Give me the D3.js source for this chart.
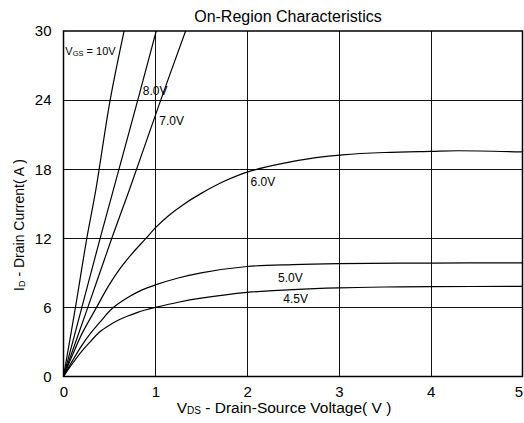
<!DOCTYPE html>
<html>
<head>
<meta charset="utf-8">
<script src="https://cdn.jsdelivr.net/npm/d3@7"></script>
<style>
  html, body { margin: 0; padding: 0; background: #fff; }
  svg { display: block; font-family: "Liberation Sans", Arial, sans-serif; }
</style>
</head>
<body>
<svg id="chart" width="524" height="423"></svg>
<script>
// ---- data ----
const title = "On-Region Characteristics";
const xTicks = [0, 1, 2, 3, 4, 5];
const yTicks = [0, 6, 12, 18, 24, 30];

const vgs10 = [[0,0],[0.13,6],[0.254,12],[0.352,16.2],[0.508,24],[0.66,30]];
const vgs8  = [[0,0],[0.2,6],[0.399,12],[0.543,16.2],[0.809,24],[1.01,30]];
const vgs7  = [[0,0],[0.265,6],[0.526,12],[0.717,16.2],[1.059,24],[1.33,30]];
const vgs6  = [[0,0],[0.1,1.9],[0.2,3.7],[0.36,6.0],[0.486,7.8],[0.6,9.2],[0.75,10.7],[0.888,11.9],[1,12.9],[1.15,14.0],[1.3,14.9],[1.5,15.9],[1.75,16.95],[2,17.75],[2.39,18.5],[2.75,19.0],[3.04,19.25],[3.5,19.45],[4,19.55],[4.3,19.6],[5,19.5]];
const vgs5  = [[0,0],[0.1,1.4],[0.2,2.7],[0.3,3.8],[0.4,4.75],[0.53,5.9],[0.7,6.85],[0.85,7.5],[1,7.95],[1.25,8.55],[1.5,9.0],[2,9.55],[2.5,9.72],[3,9.8],[4,9.85],[5,9.87]];
const vgs45 = [[0,0],[0.1,1.15],[0.2,2.2],[0.3,3.1],[0.4,3.9],[0.5,4.45],[0.6,4.9],[0.7,5.25],[0.8,5.55],[0.9,5.8],[1.0,6.0],[1.25,6.45],[1.5,6.8],[2,7.3],[2.5,7.55],[3,7.7],[3.5,7.77],[4,7.8],[5,7.83]];

const series = [vgs10, vgs8, vgs7, vgs6, vgs5, vgs45];
const curveLabels = [
  { name: "8.0V", at: [0.863, 24.45] },
  { name: "7.0V", at: [1.043, 21.85] },
  { name: "6.0V", at: [2.037, 16.5] },
  { name: "5.0V", at: [2.337, 8.23] },
  { name: "4.5V", at: [2.395, 6.35] }
];

// ---- layout ----
const svg = d3.select("#chart");
const margin = { left: 63.5, right: 1, top: 31, bottom: 47 };
const W = 524, H = 423;
const x = d3.scaleLinear().domain([0, 5]).range([margin.left, W - margin.right - 0.5]);
const y = d3.scaleLinear().domain([0, 30]).range([H - margin.bottom + 0.5, margin.top]);

svg.append("defs").append("clipPath").attr("id", "plot")
  .append("rect")
  .attr("x", x(0)).attr("y", y(30))
  .attr("width", x(5) - x(0)).attr("height", y(0) - y(30));

// grid
const grid = svg.append("g").attr("stroke", "#111").attr("stroke-width", 1);
grid.selectAll("line.v").data(xTicks.slice(1, -1)).join("line")
  .attr("x1", d => Math.round(x(d)) + 0.5).attr("x2", d => Math.round(x(d)) + 0.5)
  .attr("y1", y(0)).attr("y2", y(30));
grid.selectAll("line.h").data(yTicks.slice(1, -1)).join("line")
  .attr("y1", d => Math.round(y(d)) + 0.5).attr("y2", d => Math.round(y(d)) + 0.5)
  .attr("x1", x(0)).attr("x2", x(5));

// frame
svg.append("rect")
  .attr("x", x(0)).attr("y", y(30))
  .attr("width", x(5) - x(0)).attr("height", y(0) - y(30))
  .attr("fill", "none").attr("stroke", "#000").attr("stroke-width", 1.5);

// axes (labels only)
const xAxis = d3.axisBottom(x).tickValues(xTicks).tickSize(0).tickPadding(10).tickFormat(d3.format("d"));
const gx = svg.append("g").attr("transform", `translate(0,${y(0)})`).call(xAxis);
gx.select(".domain").remove();
gx.selectAll("text").attr("font-size", 15).attr("fill", "#000").attr("font-family", "Liberation Sans, Arial, sans-serif")
  .attr("dx", d => d === 5 ? -4 : 0);

const yAxis = d3.axisLeft(y).tickValues(yTicks).tickSize(0).tickPadding(12).tickFormat(d3.format("d"));
const gy = svg.append("g").attr("transform", `translate(${x(0)},0)`).call(yAxis);
gy.select(".domain").remove();
gy.selectAll("text").attr("font-size", 15).attr("fill", "#000").attr("font-family", "Liberation Sans, Arial, sans-serif");

// curves
const line = d3.line().x(d => x(d[0])).y(d => y(d[1])).curve(d3.curveCatmullRom.alpha(0.5));
svg.append("g").attr("clip-path", "url(#plot)")
  .selectAll("path").data(series).join("path")
  .attr("d", line)
  .attr("fill", "none").attr("stroke", "#000").attr("stroke-width", 1.2);

// curve labels
svg.append("g").selectAll("text").data(curveLabels).join("text")
  .attr("x", d => x(d.at[0])).attr("y", d => y(d.at[1]))
  .attr("font-size", 12).attr("fill", "#000")
  .text(d => d.name);

// VGS label
const vl = svg.append("text").attr("x", x(0.02)).attr("y", y(27.94)).attr("font-size", 11).attr("fill", "#000");
vl.append("tspan").text("V");
vl.append("tspan").attr("font-size", 7.5).attr("dy", 1).text("GS");
vl.append("tspan").attr("dy", -1).text(" = 10V");

// title
svg.append("text").attr("x", 288).attr("y", 22).attr("text-anchor", "middle")
  .attr("font-size", 16).attr("fill", "#000").text(title);

// x axis title
const xt = svg.append("text").attr("x", 284).attr("y", 413).attr("text-anchor", "middle")
  .attr("font-size", 15.5).attr("fill", "#000");
xt.append("tspan").text("V");
xt.append("tspan").attr("font-size", 10).attr("dy", 1).text("DS");
xt.append("tspan").attr("dy", -1).text(" - Drain-Source Voltage( V )");

// y axis title
const yt = svg.append("text")
  .attr("transform", `translate(24,225) rotate(-90)`)
  .attr("text-anchor", "middle").attr("font-size", 14).attr("fill", "#000");
yt.append("tspan").text("I");
yt.append("tspan").attr("font-size", 9).attr("dy", 1).text("D");
yt.append("tspan").attr("dy", -1).text(" - Drain Current( A )");
</script>
</body>
</html>
